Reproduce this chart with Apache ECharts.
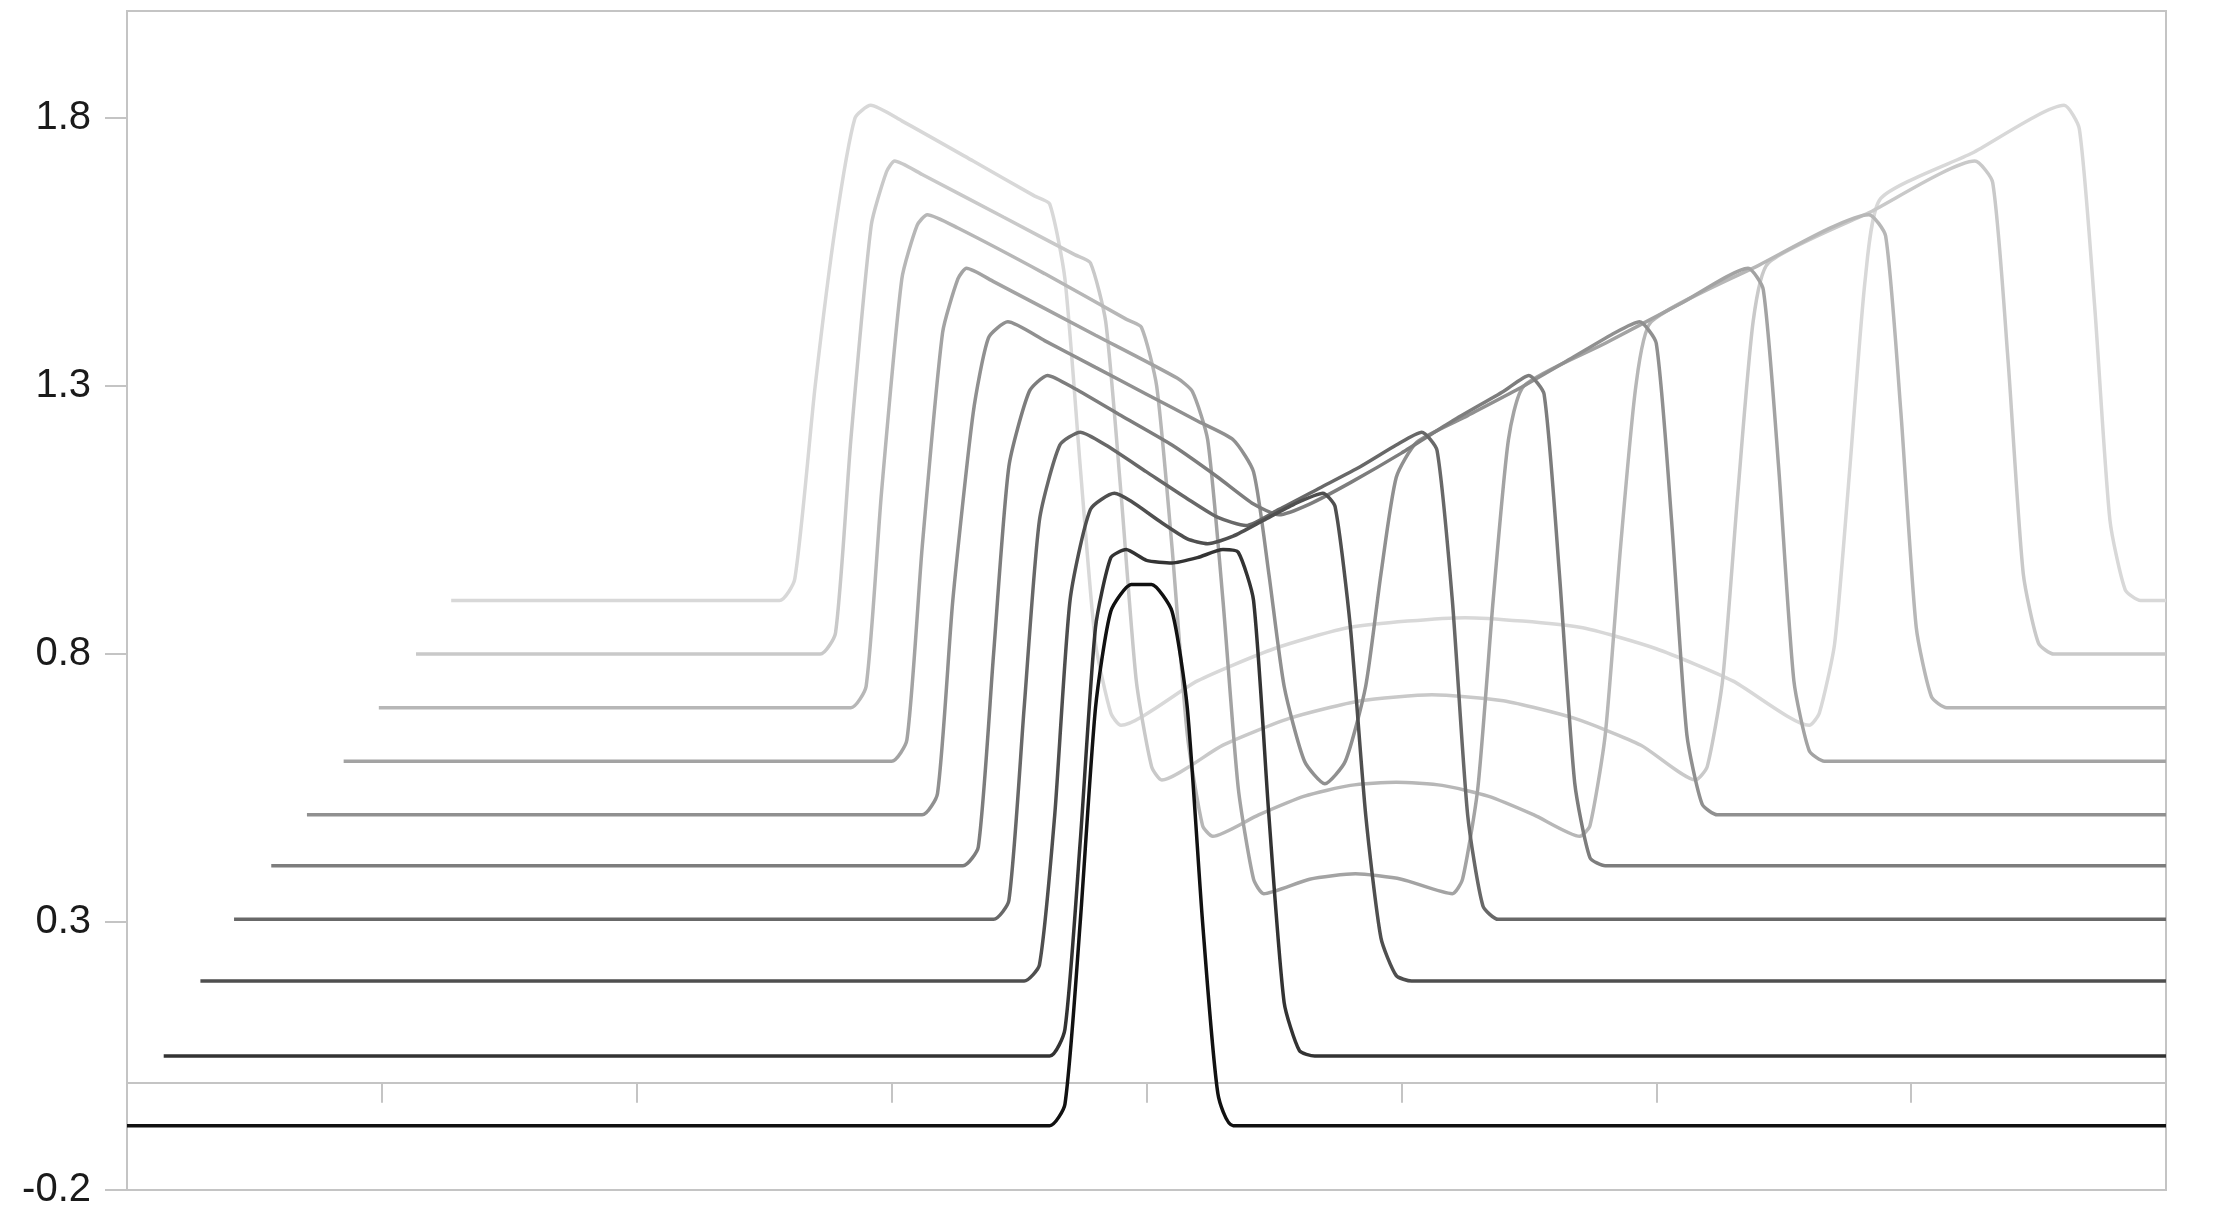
<!DOCTYPE html>
<html>
<head>
<meta charset="utf-8">
<script src="https://cdn.jsdelivr.net/npm/echarts@6/dist/echarts.min.js"></script>
<style>
  html, body { margin: 0; padding: 0; background: #fff; }
  #chart { width: 2220px; height: 1224px; }
</style>
</head>
<body>
<div id="chart"></div>
<script>
// one curve per time step, drawn as a waterfall (each shifted right and up)
var curve0 = [[0,-0.08],[181,-0.08],[184,-0.04],[187,0.3],[190,0.7],[193,0.88],[197,0.93],[201,0.93],[205,0.88],[208,0.7],[211,0.3],[214,-0.02],[217,-0.08],[400,-0.08]];
var curve1 = [[7.2,0.05],[181,0.05],[184,0.1],[187,0.45],[190,0.85],[193,0.98],[196,0.995],[200,0.975],[205,0.97],[210,0.98],[215,0.995],[218,0.99],[221,0.9],[224,0.5],[227,0.15],[230,0.06],[233,0.05],[400,0.05]];
var curve2 = [[14.4,0.19],[176,0.19],[179,0.22],[182,0.5],[185,0.9],[189,1.07],[193.7,1.1],[197,1.085],[203,1.045],[208,1.015],[212,1.006],[217,1.02],[223,1.05],[229,1.08],[234.6,1.1],[237,1.075],[240,0.85],[243,0.5],[246,0.27],[249,0.2],[252,0.19],[400,0.19]];
var curve3 = [[21,0.305],[170,0.305],[173,0.34],[176,0.7],[179,1.05],[183,1.19],[187,1.214],[192,1.19],[200,1.14],[208,1.09],[214,1.055],[219.5,1.04],[226,1.07],[234,1.11],[242,1.15],[249,1.19],[254,1.214],[257,1.18],[260,0.9],[263,0.5],[266,0.33],[269,0.305],[400,0.305]];
var curve4 = [[28.3,0.405],[164,0.405],[167,0.44],[170,0.8],[173,1.15],[177,1.29],[180.6,1.32],[186,1.295],[195,1.245],[205,1.19],[214,1.13],[221,1.08],[226,1.06],[232,1.08],[240,1.12],[250,1.175],[260,1.235],[270,1.29],[275,1.32],[278,1.285],[281,0.95],[284,0.56],[287,0.42],[290,0.405],[400,0.405]];
var curve5 = [[35.3,0.5],[156,0.5],[159,0.54],[162,0.9],[166,1.25],[169,1.39],[172.8,1.42],[180,1.385],[190,1.335],[200,1.285],[210,1.235],[217,1.2],[221,1.14],[224,0.95],[227,0.74],[231,0.6],[235,0.558],[239,0.6],[243,0.74],[246,0.95],[249,1.13],[253,1.195],[263,1.245],[273,1.295],[283,1.35],[292,1.4],[296.7,1.42],[300,1.38],[303,1.05],[306,0.65],[309,0.52],[312,0.5],[400,0.5]];
var curve6 = [[42.5,0.6],[150,0.6],[153,0.64],[156,1.0],[160,1.4],[163,1.5],[164.7,1.52],[170,1.495],[190,1.395],[206,1.315],[209,1.29],[212,1.2],[215,0.9],[218,0.55],[221,0.38],[223,0.353],[232,0.38],[241,0.39],[250,0.38],[260,0.353],[262,0.38],[265,0.55],[268,0.9],[271,1.2],[274,1.3],[290,1.38],[305,1.455],[318,1.52],[321,1.48],[324,1.15],[327,0.75],[330,0.62],[333,0.6],[400,0.6]];
var curve7 = [[49.4,0.7],[142,0.7],[145,0.74],[148,1.1],[152,1.5],[155,1.6],[157,1.62],[163,1.595],[180,1.51],[196,1.425],[199,1.41],[202,1.3],[205,1.0],[208,0.65],[211,0.48],[213,0.46],[222,0.5],[231,0.535],[240,0.555],[249,0.561],[258,0.555],[267,0.535],[276,0.5],[285,0.46],[287,0.48],[290,0.65],[293,1.0],[296,1.3],[299,1.42],[320,1.525],[341.7,1.62],[345,1.58],[348,1.25],[351,0.85],[354,0.72],[357,0.7],[400,0.7]];
var curve8 = [[56.7,0.8],[136,0.8],[139,0.84],[142,1.2],[146,1.6],[149,1.7],[150.6,1.72],[156,1.695],[172,1.615],[186,1.545],[189,1.53],[192,1.42],[195,1.1],[198,0.75],[201,0.59],[203,0.565],[215,0.63],[228,0.68],[242,0.713],[256,0.724],[270,0.713],[284,0.68],[297,0.63],[307.7,0.565],[310,0.59],[313,0.75],[316,1.1],[319,1.42],[322,1.53],[342,1.625],[362.5,1.72],[366,1.68],[369,1.35],[372,0.95],[375,0.82],[378,0.8],[400,0.8]];
var curve9 = [[63.6,0.9],[128,0.9],[131,0.94],[135,1.3],[139,1.6],[142.8,1.8],[145.9,1.824],[152,1.795],[166,1.72],[178,1.655],[181,1.64],[184,1.5],[187,1.15],[190,0.82],[193,0.69],[195,0.667],[210,0.75],[225,0.81],[240,0.85],[262.5,0.868],[285,0.85],[300,0.81],[315,0.75],[330,0.667],[332,0.69],[335,0.82],[338,1.15],[341,1.5],[344,1.65],[362,1.735],[380,1.824],[383,1.78],[386,1.45],[389,1.05],[392,0.92],[395,0.9],[400,0.9]];

var curves = [curve0, curve1, curve2, curve3, curve4, curve5, curve6, curve7, curve8, curve9];
var greys = ['#111111', '#333333', '#4f4f4f', '#686868', '#7d7d7d', '#909090', '#a3a3a3', '#b7b7b7', '#c9c9c9', '#d8d8d8'];

var xTicks = [0, 50, 100, 150, 200, 250, 300, 350, 400];
var yTicks = [-0.2, 0.3, 0.8, 1.3, 1.8];

var chart = echarts.init(document.getElementById('chart'));

var series = curves.map(function (pts, i) {
    return {
        type: 'line',
        data: pts,
        showSymbol: false,
        smooth: 0.2,
        z: 20 - i,
        lineStyle: { color: greys[i], width: 3.5 },
        animation: false
    };
});

chart.setOption({
    backgroundColor: '#fff',
    grid: {
        left: 127, right: 54, top: 11, bottom: 34,
        outerBoundsMode: 'none',
        show: true, borderColor: '#c4c4c4', borderWidth: 2
    },
    xAxis: {
        type: 'value', min: xTicks[0], max: xTicks[xTicks.length - 1], interval: 50,
        axisLine: { onZero: true, lineStyle: { color: '#c4c4c4', width: 2 } },
        axisTick: { show: true, inside: false, length: 20, lineStyle: { color: '#c4c4c4', width: 2 } },
        axisLabel: { fontFamily: 'Liberation Sans', fontSize: 40, color: '#1a1a1a', margin: 44 },
        splitLine: { show: false }
    },
    yAxis: {
        type: 'value', min: yTicks[0], max: 2.0, interval: 0.5,
        axisLine: { show: true, onZero: false, lineStyle: { color: '#c4c4c4', width: 2 } },
        axisTick: { show: true, length: 22, lineStyle: { color: '#c4c4c4', width: 2 } },
        axisLabel: {
            fontFamily: 'Liberation Sans', fontSize: 40, color: '#1a1a1a', margin: 36,
            showMaxLabel: false,
            formatter: function (v) { return yTicks.indexOf(Math.round(v * 10) / 10) >= 0 ? v.toFixed(1) : ''; }
        },
        splitLine: { show: false }
    },
    series: series
});
</script>
</body>
</html>
